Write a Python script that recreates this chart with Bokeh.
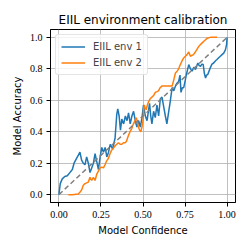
from bokeh.plotting import figure
from bokeh.models import Range1d, FixedTicker, Legend, LegendItem
from bokeh.embed import file_html
from bokeh.resources import INLINE

env1_conf = [0.0, 0.008, 0.02, 0.035, 0.05, 0.065, 0.08, 0.09, 0.105, 0.115, 0.125, 0.135, 0.145, 0.155,
             0.165, 0.175, 0.185, 0.195, 0.205, 0.215, 0.225, 0.235, 0.245, 0.255, 0.265, 0.275, 0.285,
             0.295, 0.305, 0.32, 0.334, 0.344, 0.35, 0.358, 0.366, 0.374, 0.385, 0.395, 0.405, 0.414,
             0.424, 0.434, 0.444, 0.454, 0.464, 0.474, 0.484, 0.494, 0.503, 0.514, 0.524, 0.532, 0.539,
             0.546, 0.553, 0.563, 0.573, 0.583, 0.593, 0.603, 0.613, 0.623, 0.633, 0.642, 0.653, 0.663,
             0.673, 0.683, 0.693, 0.703, 0.712, 0.72, 0.726, 0.734, 0.742, 0.75, 0.758, 0.772, 0.782,
             0.792, 0.802, 0.812, 0.826, 0.834, 0.842, 0.85, 0.858, 0.865, 0.872, 0.878, 0.885, 0.9,
             0.91, 0.92, 0.93, 0.94, 0.95, 0.96, 0.97, 0.98, 0.99, 0.997, 1.0]
env1_acc = [0.0, 0.07, 0.1, 0.115, 0.12, 0.14, 0.16, 0.2, 0.23, 0.25, 0.27, 0.22, 0.2, 0.19,
            0.24, 0.2, 0.14, 0.17, 0.2, 0.26, 0.21, 0.16, 0.24, 0.3, 0.27, 0.3, 0.24,
            0.27, 0.32, 0.29, 0.36, 0.51, 0.546, 0.5, 0.41, 0.48, 0.45, 0.5, 0.47, 0.52,
            0.45, 0.5, 0.53, 0.47, 0.43, 0.47, 0.43, 0.49, 0.57, 0.5, 0.47, 0.53, 0.58,
            0.5, 0.45, 0.53, 0.49, 0.57, 0.5, 0.61, 0.62, 0.56, 0.5, 0.45, 0.53, 0.6,
            0.68, 0.66, 0.69, 0.71, 0.72, 0.76, 0.65, 0.68, 0.68, 0.72, 0.764, 0.827, 0.8,
            0.785, 0.81, 0.795, 0.837, 0.82, 0.816, 0.83, 0.827, 0.77, 0.742, 0.76, 0.764, 0.806,
            0.83, 0.837, 0.85, 0.859, 0.87, 0.88, 0.89, 0.9, 0.92, 0.954, 1.0]

env2_conf = [0.056, 0.08, 0.115, 0.125, 0.135, 0.145, 0.155, 0.165, 0.175, 0.185, 0.195, 0.205, 0.215,
             0.225, 0.235, 0.245, 0.255, 0.265, 0.274, 0.284, 0.294, 0.304, 0.312, 0.32, 0.334, 0.344,
             0.354, 0.364, 0.374, 0.384, 0.394, 0.402, 0.408, 0.415, 0.423, 0.433, 0.443, 0.452, 0.46,
             0.467, 0.473, 0.48, 0.487, 0.494, 0.5, 0.504, 0.507, 0.513, 0.519, 0.526, 0.533, 0.543,
             0.553, 0.563, 0.573, 0.583, 0.592, 0.602, 0.612, 0.622, 0.632, 0.642, 0.652, 0.662, 0.673,
             0.683, 0.693, 0.703, 0.712, 0.722, 0.732, 0.742, 0.752, 0.762, 0.772, 0.782, 0.79, 0.8,
             0.81, 0.82, 0.83, 0.842, 0.852, 0.862, 0.872, 0.882, 0.9, 0.94]
env2_acc = [0.0, 0.0, 0.004, 0.015, 0.03, 0.06, 0.07, 0.075, 0.08, 0.11, 0.09, 0.11, 0.09,
            0.13, 0.15, 0.17, 0.175, 0.17, 0.19, 0.215, 0.23, 0.26, 0.28, 0.29, 0.31, 0.32,
            0.33, 0.32, 0.32, 0.33, 0.33, 0.34, 0.36, 0.38, 0.4, 0.42, 0.45, 0.47, 0.49,
            0.46, 0.43, 0.41, 0.4, 0.43, 0.47, 0.54, 0.57, 0.55, 0.54, 0.57, 0.59, 0.61,
            0.62, 0.63, 0.65, 0.655, 0.66, 0.68, 0.69, 0.69, 0.69, 0.69, 0.69, 0.69, 0.69,
            0.73, 0.774, 0.785, 0.8, 0.827, 0.85, 0.869, 0.88, 0.89, 0.907, 0.88, 0.885, 0.89,
            0.905, 0.922, 0.94, 0.954, 0.965, 0.975, 0.985, 0.995, 1.0, 1.0]

diag = [0.0, 1.0]
x_ticks = [0.0, 0.25, 0.5, 0.75, 1.0]
y_ticks = [0.0, 0.2, 0.4, 0.6, 0.8, 1.0]

p = figure(frame_width=185, frame_height=173, output_backend="svg", toolbar_location=None,
           x_range=Range1d(-0.05, 1.05), y_range=Range1d(-0.05, 1.05),
           min_border_left=50, min_border_right=14, min_border_top=29, min_border_bottom=47)

p.title.text = "EIIL environment calibration"
p.title.text_font = "DejaVu Sans"
p.title.text_font_size = "12px"
p.title.text_font_style = "normal"
p.title.align = "center"
p.title.text_color = "black"
p.title.standoff = 6

p.outline_line_color = "black"
p.outline_line_width = 1

for ax, label, ticks in ((p.xaxis[0], "Model Confidence", x_ticks), (p.yaxis[0], "Model Accuracy", y_ticks)):
    ax.axis_label = label
    ax.axis_label_text_font = "DejaVu Sans"
    ax.axis_label_text_font_size = "10px"
    ax.axis_label_text_font_style = "normal"
    ax.axis_label_text_color = "black"
    ax.axis_label_standoff = 4
    ax.ticker = FixedTicker(ticks=ticks)
    ax.major_label_text_font = "Liberation Serif"
    ax.major_label_text_font_size = "10px"
    ax.major_label_text_color = "black"
    ax.major_label_standoff = 4
    ax.major_tick_in = 0
    ax.major_tick_out = 4
    ax.major_tick_line_color = "black"
    ax.minor_tick_line_color = None
    ax.axis_line_color = "black"

p.xaxis[0].major_label_overrides = {0.0: "0.00", 0.25: "0.25", 0.5: "0.50", 0.75: "0.75", 1.0: "1.00"}
p.yaxis[0].major_label_overrides = {0.0: "0.0", 0.2: "0.2", 0.4: "0.4", 0.6: "0.6", 0.8: "0.8", 1.0: "1.0"}

p.grid.grid_line_color = "#b0b0b0"
p.grid.grid_line_width = 0.8

r1 = p.line(env1_conf, env1_acc, line_color="#1f77b4", line_width=1.5)
r2 = p.line(env2_conf, env2_acc, line_color="#ff7f0e", line_width=1.5)
p.line(diag, diag, line_color="gray", line_width=1.5, line_dash="5 3")

legend = Legend(items=[LegendItem(label="EIIL env 1", renderers=[r1]),
                       LegendItem(label="EIIL env 2", renderers=[r2])],
                location="top_left")
legend.label_text_font = "DejaVu Sans"
legend.label_text_font_size = "10px"
legend.label_height = 13
legend.glyph_height = 13
legend.glyph_width = 24
legend.label_standoff = 8
legend.spacing = 3
legend.padding = 5
legend.margin = 5
legend.border_line_color = "#cccccc"
legend.border_line_width = 1
legend.border_radius = 3
legend.background_fill_alpha = 0.8
p.add_layout(legend)

open("out.html", "w").write(file_html(p, INLINE))
